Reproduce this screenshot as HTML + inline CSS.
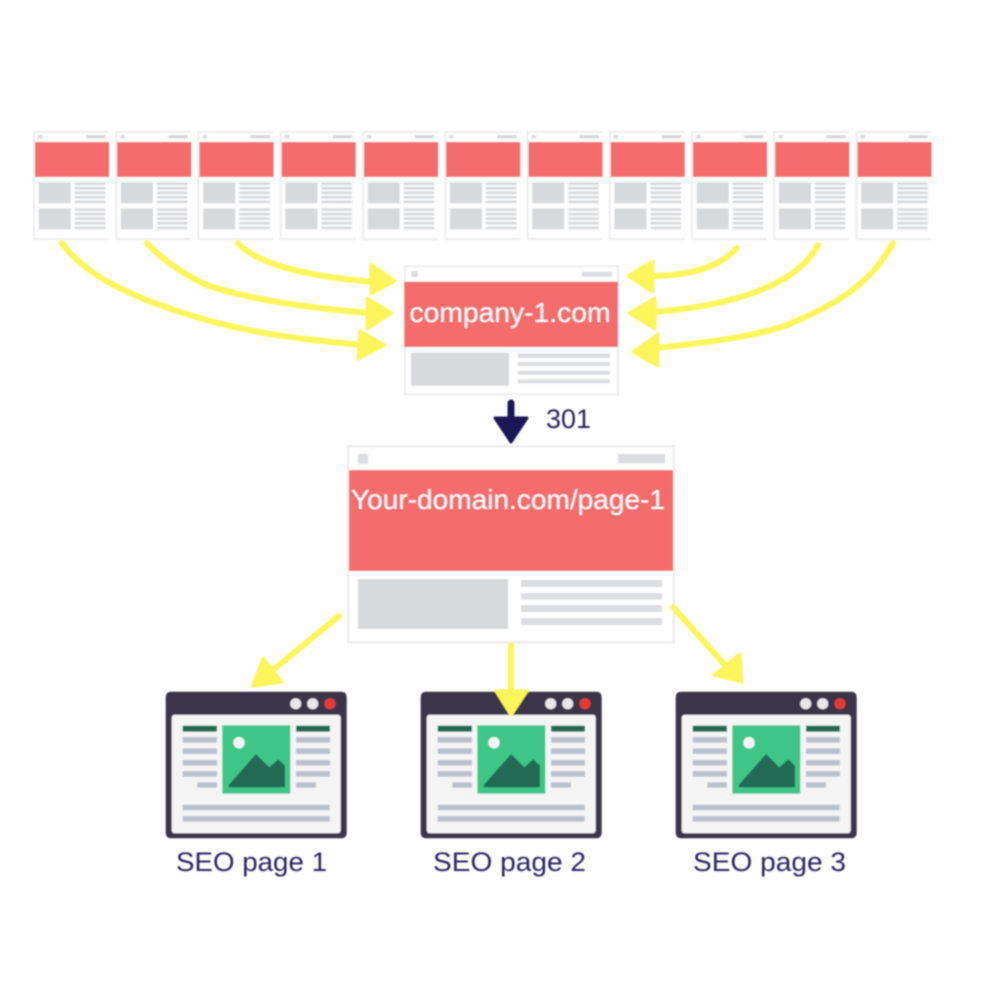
<!DOCTYPE html>
<html><head><meta charset="utf-8"><style>html,body{margin:0;padding:0;background:#fff}svg{display:block}text{font-family:"Liberation Sans",sans-serif}</style></head>
<body>
<svg xmlns="http://www.w3.org/2000/svg" width="1000" height="1000" viewBox="0 0 1000 1000">
<defs>
<filter id="b" x="-2%" y="-2%" width="104%" height="104%"><feGaussianBlur stdDeviation="0.7"/></filter>
<g id="s">
<rect x="33" y="131" width="76" height="109" fill="#eeeeee"/>
<rect x="35" y="133" width="74" height="105" fill="#fff"/>
<rect x="38" y="135" width="4.5" height="3.5" fill="#d8d9db"/>
<rect x="86" y="135" width="19.5" height="3.5" fill="#d8d9db"/>
<rect x="35" y="142" width="74" height="35" fill="#f46c6c"/>
<rect x="38.7" y="182.3" width="32" height="21" fill="#d8d9db"/>
<rect x="38.7" y="208.3" width="32" height="21" fill="#d8d9db"/>
<g fill="#d8d9db">
<rect x="74.7" y="182.3" width="30.6" height="2.8"/><rect x="74.7" y="186.8" width="30.6" height="2.8"/><rect x="74.7" y="191.3" width="30.6" height="2.8"/><rect x="74.7" y="195.8" width="30.6" height="2.8"/><rect x="74.7" y="200.5" width="30.6" height="2.8"/>
<rect x="74.7" y="208.3" width="30.6" height="2.8"/><rect x="74.7" y="212.8" width="30.6" height="2.8"/><rect x="74.7" y="217.3" width="30.6" height="2.8"/><rect x="74.7" y="221.8" width="30.6" height="2.8"/><rect x="74.7" y="226.5" width="30.6" height="2.8"/>
</g>
</g>
<g id="w">
<rect x="165.7" y="691.7" width="181" height="146.6" rx="5" fill="#3a3548"/>
<rect x="171.7" y="714.7" width="169" height="118.6" rx="3" fill="#f5f5f6"/>
<circle cx="295.7" cy="703.7" r="5.5" fill="#e8e8ea"/><circle cx="312.7" cy="703.7" r="5.5" fill="#e8e8ea"/><circle cx="330" cy="703.7" r="5.5" fill="#e53b30"/>
<rect x="182.7" y="725.7" width="34.3" height="6" fill="#1f6b50"/><rect x="296" y="725.7" width="34" height="6" fill="#1f6b50"/>
<g fill="#bcc0cc">
<rect x="182.7" y="737" width="34.3" height="5.7"/><rect x="182.7" y="748.3" width="34.3" height="5.7"/><rect x="182.7" y="760" width="34.3" height="5.5"/><rect x="182.7" y="771" width="34.3" height="5.7"/><rect x="197.3" y="782.3" width="19.7" height="5.4"/>
<rect x="296" y="737" width="34" height="5.7"/><rect x="296" y="748.3" width="34" height="5.7"/><rect x="296" y="760" width="34" height="5.5"/><rect x="296" y="771" width="34" height="5.7"/><rect x="296" y="782.3" width="20" height="5.4"/>
<rect x="182.7" y="804.7" width="147" height="5.6"/><rect x="182.7" y="816" width="147" height="5.7"/>
</g>
<rect x="222.3" y="725.3" width="68" height="68.4" fill="#3dc687"/>
<circle cx="239" cy="742.7" r="5.7" fill="#f5f5f6"/>
<path d="M228.7 785 L256 754 L269.3 767.3 L278.3 759.3 L285 765.7 V787.3 H228.7 Z" fill="#226b52"/>
</g>
</defs>
<rect width="1000" height="1000" fill="#fff"/>
<g filter="url(#b)">
<use href="#s"/><use href="#s" x="82.2"/><use href="#s" x="164.5"/><use href="#s" x="246.7"/><use href="#s" x="329"/><use href="#s" x="411.2"/><use href="#s" x="493.5"/><use href="#s" x="575.7"/><use href="#s" x="658"/><use href="#s" x="740.2"/><use href="#s" x="822.5"/>

<rect x="404" y="265.3" width="215" height="130" fill="#eeeeee"/>
<rect x="406" y="267.3" width="211" height="126" fill="#fff"/>
<rect x="411" y="271" width="6.7" height="6" fill="#dcdde0"/>
<rect x="581.7" y="271.7" width="30.3" height="5" fill="#dcdde0"/>
<rect x="404.3" y="281.7" width="213.7" height="65.3" fill="#f46c6c"/>
<rect x="411" y="352.7" width="98" height="33" fill="#d8d9db"/>
<g fill="#dcdde0"><rect x="517.7" y="353.7" width="92.3" height="4.3"/><rect x="517.7" y="362" width="92.3" height="4"/><rect x="517.7" y="370.7" width="92.3" height="4"/><rect x="517.7" y="379.3" width="92.3" height="4"/></g>

<rect x="347" y="445" width="328" height="198.5" fill="#eeeeee"/>
<rect x="349.5" y="447.5" width="323" height="193.5" fill="#fff"/>
<rect x="358" y="454" width="10" height="10" fill="#dcdde0"/>
<rect x="618" y="454" width="47" height="9.5" fill="#dcdde0"/>
<rect x="349" y="470" width="324" height="101" fill="#f46c6c"/>
<rect x="358" y="579" width="150" height="50" fill="#d8d9db"/>
<g fill="#dcdde0"><rect x="521" y="580" width="141" height="7"/><rect x="521" y="593" width="141" height="6.5"/><rect x="521" y="605" width="141" height="7"/><rect x="521" y="618" width="141" height="7"/></g>

<use href="#w"/><use href="#w" x="255"/><use href="#w" x="510"/>

<g fill="none" stroke="#fdf65a" stroke-width="6" stroke-linecap="round">
<path d="M61.7 243 C85 275 130 298 206.7 320 C260 335 310 340 362 345"/>
<path d="M146.7 243 C165 262 185 275 206.7 285 C250 300 310 308 369 313"/>
<path d="M238 243 C255 262 300 276 372 281.7"/>
<path d="M737 248 C720 266 695 275 653 276"/>
<path d="M818 245 C800 280 745 305 653 312"/>
<path d="M893 243 C870 285 835 305 787 325 C750 338 700 343 657 348"/>
<path d="M339 616 L268 674"/>
<path d="M511 645 V695"/>
<path d="M673 607 L725 665"/>
</g>
<g fill="#fdf65a" stroke="#fdf65a" stroke-width="3" stroke-linejoin="round">
<path d="M371 264 L395 281 L371 294 Z"/>
<path d="M367 298 L392 313 L367 329 Z"/>
<path d="M360 331 L385 345 L358 359 Z"/>
<path d="M653 261 L628 276 L653 292 Z"/>
<path d="M655 298 L629 313 L655 329 Z"/>
<path d="M658 334 L633 352 L658 366 Z"/>
<path d="M252.7 686.3 L263 658 L282 682 Z"/>
<path d="M496 691 H527 L511 715 Z"/>
<path d="M742 682 L740 654 L714 675 Z"/>
</g>
<path d="M511 403 V425" stroke="#1c1454" stroke-width="7" stroke-linecap="round" fill="none"/>
<path d="M495 418 L527 418 L511 442 Z" fill="#1c1454" stroke="#1c1454" stroke-width="3" stroke-linejoin="round"/>
<text x="409.5" y="322" font-size="28" fill="#fff" textLength="201" lengthAdjust="spacingAndGlyphs">company-1.com</text>
<text x="351" y="509" font-size="28" fill="#fff" textLength="314" lengthAdjust="spacingAndGlyphs">Your-domain.com/page-1</text>
<text x="546" y="428" font-size="27" fill="#2a2360" textLength="45" lengthAdjust="spacingAndGlyphs">301</text>
<text x="176" y="871" font-size="27" fill="#2a2360" textLength="151" lengthAdjust="spacingAndGlyphs">SEO page 1</text>
<text x="433" y="871" font-size="27" fill="#2a2360" textLength="153" lengthAdjust="spacingAndGlyphs">SEO page 2</text>
<text x="693" y="871" font-size="27" fill="#2a2360" textLength="153" lengthAdjust="spacingAndGlyphs">SEO page 3</text>
</g>
</svg>
</body></html>
